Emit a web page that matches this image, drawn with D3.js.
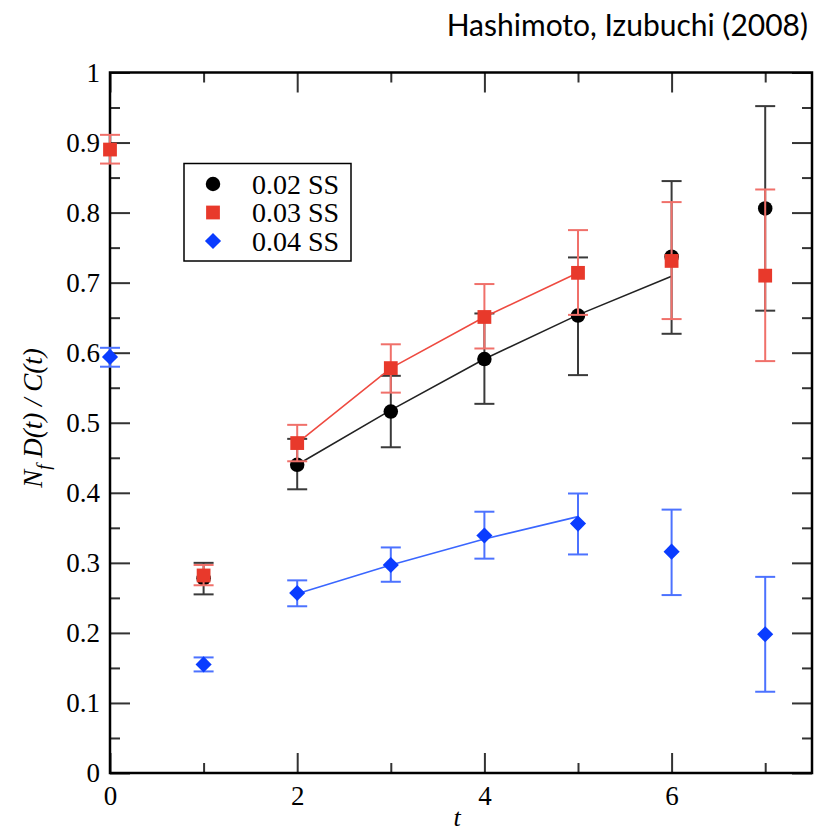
<!DOCTYPE html>
<html>
<head>
  <meta charset="utf-8">
  <title>Nf D(t) / C(t)</title>
  <script src="https://d3js.org/d3.v7.min.js"></script>
  <style>
    body { margin: 0; background: #fff; }
    .axis line { stroke: #333; stroke-width: 2px; }
    .axis path { display: none; }
    .frame { fill: none; stroke: #000; stroke-width: 2.5px; }
  </style>
</head>
<body>
  <svg id="chart" width="820" height="831"></svg>

  <script>
    // time slices
    const tVals = [0, 1, 2, 3, 4, 5, 6, 7];

    // 0.02 SS (black circles)
    const ss02 = [null, 0.278, 0.440, 0.516, 0.591, 0.653, 0.737, 0.806];
    const ss02Lo = [null, 0.255, 0.405, 0.465, 0.527, 0.568, 0.627, 0.660];
    const ss02Hi = [null, 0.300, 0.477, 0.567, 0.656, 0.736, 0.845, 0.952];
    const ss02FitT = [2, 3, 4, 5, 6];
    const ss02Fit = [0.440, 0.518, 0.591, 0.654, 0.709];

    // 0.03 SS (red squares)
    const ss03 = [0.890, 0.282, 0.471, 0.578, 0.651, 0.714, 0.731, 0.710];
    const ss03Lo = [0.870, 0.268, 0.445, 0.543, 0.606, 0.654, 0.648, 0.588];
    const ss03Hi = [0.911, 0.297, 0.497, 0.612, 0.698, 0.775, 0.815, 0.833];
    const ss03FitT = [2, 3, 4, 5];
    const ss03Fit = [0.471, 0.578, 0.651, 0.714];

    // 0.04 SS (blue diamonds)
    const ss04 = [0.594, 0.155, 0.257, 0.297, 0.339, 0.356, 0.316, 0.198];
    const ss04Lo = [0.580, 0.145, 0.238, 0.273, 0.306, 0.312, 0.254, 0.116];
    const ss04Hi = [0.607, 0.165, 0.275, 0.322, 0.373, 0.399, 0.376, 0.280];
    const ss04FitT = [2, 3, 4, 5];
    const ss04Fit = [0.256, 0.297, 0.334, 0.366];

    const xMajor = [0, 2, 4, 6];
    const xMinor = [1, 3, 5, 7];
    const yMajor = [0, 0.1, 0.2, 0.3, 0.4, 0.5, 0.6, 0.7, 0.8, 0.9, 1];
    const yMinor = [0.05, 0.15, 0.25, 0.35, 0.45, 0.55, 0.65, 0.75, 0.85, 0.95];

    const seriesNames = ["0.02 SS", "0.03 SS", "0.04 SS"];

    const serif = "'Liberation Serif', serif";

    const svg = d3.select("#chart");
    const pLeft = 110, pRight = 812, pTop = 72.5, pBottom = 773;

    const x = d3.scaleLinear().domain([0, 7.5]).range([pLeft, pRight]);
    const y = d3.scaleLinear().domain([0, 1]).range([pBottom, pTop]);

    // title
    svg.append("text")
      .attr("x", 808).attr("y", 36)
      .attr("text-anchor", "end")
      .style("font-family", "Lato, 'Open Sans', sans-serif")
      .style("font-size", "30px")
      .text("Hashimoto, Izubuchi (2008)");

    // axes, ticks pointing inside
    const yFmt = d => (d === 0 || d === 1) ? String(d) : d.toFixed(1);

    function styleLabels(g) {
      g.selectAll("text")
        .style("font-family", serif)
        .style("font-size", "27px")
        .attr("fill", "#000");
    }

    svg.append("g").attr("class", "axis")
      .attr("transform", `translate(0,${pBottom})`)
      .call(d3.axisBottom(x).tickValues(xMajor).tickSize(-20).tickPadding(13).tickFormat(d3.format("d")))
      .call(styleLabels);
    svg.append("g").attr("class", "axis")
      .attr("transform", `translate(0,${pBottom})`)
      .call(d3.axisBottom(x).tickValues(xMinor).tickSize(-10).tickFormat(""));
    svg.append("g").attr("class", "axis")
      .attr("transform", `translate(0,${pTop})`)
      .call(d3.axisTop(x).tickValues(xMajor).tickSize(-20).tickFormat(""));
    svg.append("g").attr("class", "axis")
      .attr("transform", `translate(0,${pTop})`)
      .call(d3.axisTop(x).tickValues(xMinor).tickSize(-10).tickFormat(""));

    svg.append("g").attr("class", "axis")
      .attr("transform", `translate(${pLeft},0)`)
      .call(d3.axisLeft(y).tickValues(yMajor).tickSize(-20).tickPadding(10).tickFormat(yFmt))
      .call(styleLabels);
    svg.append("g").attr("class", "axis")
      .attr("transform", `translate(${pLeft},0)`)
      .call(d3.axisLeft(y).tickValues(yMinor).tickSize(-10).tickFormat(""));
    svg.append("g").attr("class", "axis")
      .attr("transform", `translate(${pRight},0)`)
      .call(d3.axisRight(y).tickValues(yMajor).tickSize(-20).tickFormat(""));
    svg.append("g").attr("class", "axis")
      .attr("transform", `translate(${pRight},0)`)
      .call(d3.axisRight(y).tickValues(yMinor).tickSize(-10).tickFormat(""));

    svg.append("rect").attr("class", "frame")
      .attr("x", pLeft).attr("y", pTop)
      .attr("width", pRight - pLeft).attr("height", pBottom - pTop);

    // axis titles
    svg.append("text")
      .attr("x", 457).attr("y", 826)
      .attr("text-anchor", "middle")
      .style("font-family", serif)
      .style("font-style", "italic")
      .style("font-size", "26px")
      .text("t");

    const yl = svg.append("text")
      .attr("transform", "translate(42,418) rotate(-90)")
      .attr("text-anchor", "middle")
      .style("font-family", serif)
      .style("font-style", "italic")
      .style("font-size", "27px");
    yl.append("tspan").text("N");
    yl.append("tspan").attr("dy", 8).style("font-size", "19px").text("f");
    yl.append("tspan").attr("dy", -8).text(" D(t) / C(t)");

    const series = [
      { val: ss02, lo: ss02Lo, hi: ss02Hi, fitT: ss02FitT, fit: ss02Fit, color: "#000", err: "#3a3a3a", line: "#222", shape: "circle" },
      { val: ss03, lo: ss03Lo, hi: ss03Hi, fitT: ss03FitT, fit: ss03Fit, color: "#e8392b", err: "#f0706a", line: "#ee4a40", shape: "square" },
      { val: ss04, lo: ss04Lo, hi: ss04Hi, fitT: ss04FitT, fit: ss04Fit, color: "#0a3cff", err: "#4c72ff", line: "#3a66ff", shape: "diamond" }
    ];

    const symbolPath = {
      circle: d3.symbol().type(d3.symbolCircle).size(165)(),
      square: d3.symbol().type(d3.symbolSquare).size(190)(),
      diamond: d3.symbol().type(d3.symbolSquare).size(130)()
    };
    const symbolRot = { circle: 0, square: 0, diamond: 45 };

    const fitLine = d3.line().x(d => x(d[0])).y(d => y(d[1]));
    const cap = 10;

    series.forEach(s => {
      const g = svg.append("g");
      const pts = tVals.map((t, i) => ({ t, v: s.val[i], lo: s.lo[i], hi: s.hi[i] })).filter(d => d.v !== null);

      g.append("path")
        .datum(s.fitT.map((t, i) => [t, s.fit[i]]))
        .attr("d", fitLine)
        .attr("fill", "none")
        .attr("stroke", s.line)
        .attr("stroke-width", 1.6);

      const eb = g.selectAll(".eb").data(pts).enter().append("g").attr("stroke", s.err).attr("stroke-width", 2);
      eb.append("line")
        .attr("x1", d => x(d.t)).attr("x2", d => x(d.t))
        .attr("y1", d => y(d.lo)).attr("y2", d => y(d.hi));
      eb.append("line")
        .attr("x1", d => x(d.t) - cap).attr("x2", d => x(d.t) + cap)
        .attr("y1", d => y(d.lo)).attr("y2", d => y(d.lo));
      eb.append("line")
        .attr("x1", d => x(d.t) - cap).attr("x2", d => x(d.t) + cap)
        .attr("y1", d => y(d.hi)).attr("y2", d => y(d.hi));

      g.selectAll(".pt").data(pts).enter().append("path")
        .attr("d", symbolPath[s.shape])
        .attr("transform", d => `translate(${x(d.t)},${y(d.v)}) rotate(${symbolRot[s.shape]})`)
        .attr("fill", s.color);
    });

    // legend
    const lg = svg.append("g");
    lg.append("rect")
      .attr("x", 184).attr("y", 163.5)
      .attr("width", 167).attr("height", 97.5)
      .attr("fill", "#fff").attr("stroke", "#000").attr("stroke-width", 1.5);
    seriesNames.forEach((name, i) => {
      const ry = 184 + i * 28.5;
      lg.append("path")
        .attr("d", symbolPath[series[i].shape])
        .attr("transform", `translate(213,${ry}) rotate(${symbolRot[series[i].shape]})`)
        .attr("fill", series[i].color);
      lg.append("text")
        .attr("x", 252).attr("y", ry)
        .attr("dy", "0.35em")
        .style("font-family", serif)
        .style("font-size", "28px")
        .text(name);
    });
  </script>
</body>
</html>
